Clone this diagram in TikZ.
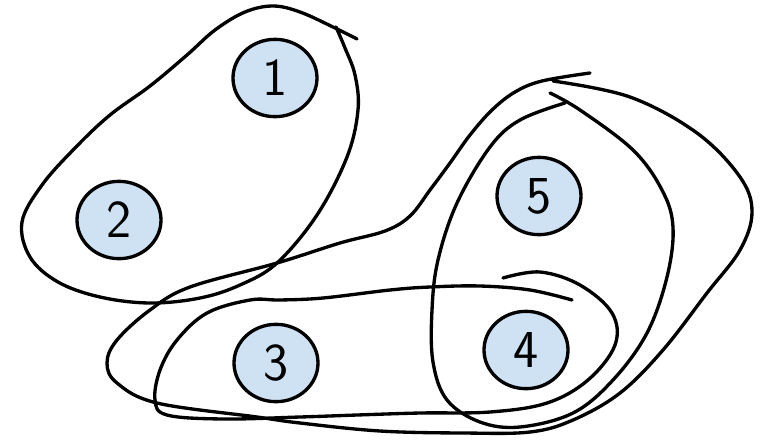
\documentclass[tikz,border=0pt]{standalone}
\usepackage{fontspec}
\usetikzlibrary{shapes.geometric}
\definecolor{nodefill}{HTML}{CFE2F3}
\tikzset{
  vert/.style={ellipse, draw=black, line width=2.5pt, fill=nodefill,
    minimum width=63pt, minimum height=58pt, inner sep=0pt,
    font=\sffamily\fontsize{40}{40}\selectfont},
  hedge/.style={draw=black, line width=2.5pt, line cap=round, line join=round}
}
\begin{document}
\begin{tikzpicture}[x=0.75pt, y=-0.75pt]
\useasboundingbox (0,0) rectangle (767,440);

% hyperedge {1,2}
\draw[hedge] plot[smooth, tension=0.6] coordinates {
 (357,39) (333,27) (300,12) (273,6) (245,12) (215,30) (187,55)
 (150,86) (110,115) (75,148) (42,185) (22,222) (30,257) (58,282) (100,297) (150,303)
 (200,298) (240,285) (277,263) (317,215) (347,157) (358,110) (355,75)
 (345,48) (336,27)};

% hyperedge {3,4}
\draw[hedge] plot[smooth, tension=0.6] coordinates {
 (572,300) (530,290) (480,286) (430,287) (390,290) (323,298) (280,300)
 (250,300) (207,313) (177,340) (160,370) (155,400) (167,415) (223,419)
 (300,417) (357,415) (420,413) (490,412) (547,403) (588,380) (615,345)
 (612,313) (580,285) (540,272) (503,278)};

% hyperedge {4,5}
\draw[hedge] plot[smooth, tension=0.6] coordinates {
 (550,93) (580,110) (633,150) (662,190) (673,227) (667,277) (647,333)
 (613,380) (573,413) (520,427) (480,422) (447,400) (433,362) (432,310)
 (438,260) (457,203) (490,147) (520,120) (565,103)};

% hyperedge {3,4,5}
\draw[hedge] plot[smooth, tension=0.6] coordinates {
 (553,81) (630,97) (697,133) (740,177) (752,212) (740,250) (707,293)
 (663,350) (620,393) (573,420) (530,432) (463,433) (380,431) (300,423)
 (257,417) (157,403) (117,383) (107,363) (117,340) (150,310) (190,287)
 (277,263) (340,243) (385,231) (410,216) (430,190) (450,163) (470,135)
 (492,110) (515,92) (542,81) (590,73)};

% vertices
\node[vert] (n1) at (275,78) {1};
\node[vert] (n2) at (119,220) {2};
\node[vert] (n5) at (539,196) {5};
\node[vert] (n4) at (526,350) {4};
\node[vert] (n3) at (276,363) {3};
\end{tikzpicture}
\end{document}
